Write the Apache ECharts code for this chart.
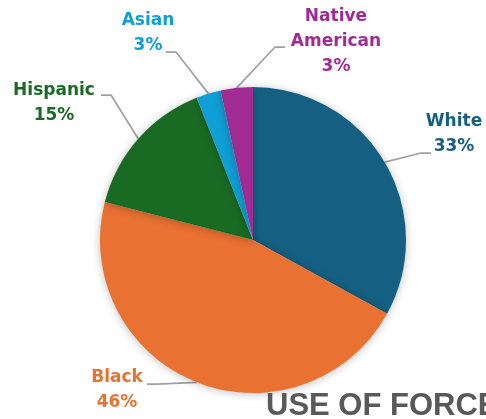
<!DOCTYPE html>
<html>
<head>
<meta charset="utf-8">
<script src="https://cdn.jsdelivr.net/npm/echarts@6/dist/echarts.min.js"></script>
<style>
html,body{margin:0;padding:0;background:#fff;}
#c{width:486px;height:419px;}
</style>
</head>
<body>
<div id="c"></div>
<script>
const categories = ['White', 'Black', 'Hispanic', 'Asian', 'Native American'];
const values = [33, 46, 15, 2.6, 3.4];
const colors = ['#156082', '#E97132', '#196B24', '#0F9ED5', '#A02B93'];
const titleText = 'USE OF FORCE';

// label layout (positions only)
const labelPos = [[454, 134], [117, 390], [54, 103], [148, 33], [336, 42]];
const lineEnd = [[431, 153], [147, 384], [101, 95], [166, 52], [285, 47]];

const chart = echarts.init(document.getElementById('c'));
chart.setOption({
  animation: false,
  title: {
    text: titleText,
    left: 261,
    top: 386,
    textStyle: { fontFamily: 'Liberation Sans', fontSize: 31, fontWeight: 'bold', color: '#595959' }
  },
  series: [{
    type: 'pie',
    center: [253, 240],
    radius: 153,
    startAngle: 90,
    clockwise: true,
    data: categories.map((c, i) => ({
      name: c, value: values[i],
      itemStyle: { color: colors[i] },
      label: { color: colors[i] }
    })),
    itemStyle: { shadowBlur: 8, shadowColor: 'rgba(0,0,0,0.25)', shadowOffsetY: 1 },
    label: {
      show: true,
      position: 'outside',
      overflow: 'none',
      edgeDistance: 0,
      fontFamily: 'DejaVu Sans',
      fontWeight: 'bold',
      fontSize: 17,
      lineHeight: 25,
      align: 'center',
      formatter: p => p.name.replace(' ', '\n') + '\n' + Math.round(p.percent) + '%'
    },
    labelLine: { show: true, length: 15, length2: 10, lineStyle: { color: '#A0A0A0', width: 1.75 } },
    labelLayout: p => {
      const i = p.dataIndex;
      const out = { x: labelPos[i][0], y: labelPos[i][1], align: 'center', verticalAlign: 'middle' };
      const pts = p.labelLinePoints;
      if (pts && pts.length) {
        const s = pts[0];
        const e = lineEnd[i];
        const sign = s[0] > e[0] ? 1 : -1;
        out.labelLinePoints = [[s[0], s[1]], [e[0] + sign * 10, e[1]], [e[0], e[1]]];
      }
      return out;
    }
  }]
});
</script>
</body>
</html>
